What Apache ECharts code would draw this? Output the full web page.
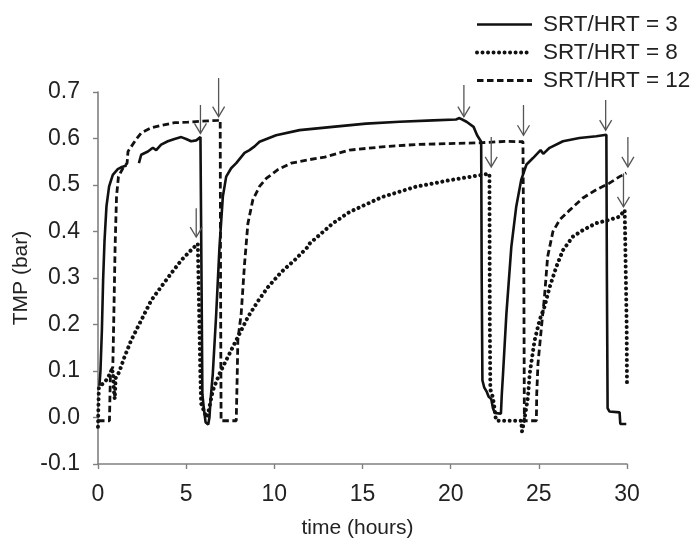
<!DOCTYPE html>
<html>
<head>
<meta charset="utf-8">
<script src="https://cdn.jsdelivr.net/npm/echarts@6/dist/echarts.min.js"></script>
<style>
  html, body { margin: 0; padding: 0; background: #fff; }
  #chart { width: 697px; height: 539px; }
</style>
</head>
<body>
<div id="chart"></div>
<script>
// Transmembrane pressure over three filtration/cleaning cycles, [time (h), TMP (bar)]
const seriesNames = ['SRT/HRT = 3', 'SRT/HRT = 8', 'SRT/HRT = 12'];

const srt3 = [
  [0.08, 0.068], [0.14, 0.10], [0.22, 0.187], [0.29, 0.295], [0.37, 0.38], [0.48, 0.454],
  [0.63, 0.497], [0.84, 0.522], [1.12, 0.534], [1.31, 0.538], [1.62, 0.542], [1.9, null],
  [2.32, 0.547], [2.45, 0.565], [2.83, 0.572], [3.11, 0.58], [3.3, 0.575], [3.58, 0.587],
  [3.96, 0.594], [4.34, 0.599], [4.72, 0.603], [5.0, 0.599], [5.28, 0.594], [5.57, 0.596],
  [5.81, 0.603], [5.88, 0.60], [5.92, 0.05], [6.0, 0.02], [6.1, -0.01], [6.25, -0.015],
  [6.32, 0.0], [6.38, 0.036], [6.51, 0.094], [6.70, 0.22], [6.89, 0.367], [7.08, 0.475],
  [7.27, 0.518], [7.55, 0.536], [7.84, 0.547], [8.31, 0.569], [8.59, 0.575], [8.88, 0.583],
  [9.16, 0.593], [10.1, 0.607], [11.43, 0.618], [13.3, 0.625], [15.2, 0.632], [17.1, 0.636],
  [19.0, 0.639], [20.3, 0.641], [20.5, 0.644], [20.9, 0.636], [21.3, 0.625], [21.5, 0.607],
  [21.73, 0.593], [21.76, 0.3], [21.8, 0.08], [21.9, 0.065], [22.05, 0.055], [22.15, 0.045],
  [22.3, 0.04], [22.4, 0.02], [22.5, 0.01], [22.85, 0.008], [22.9, 0.05], [22.97, 0.094],
  [23.16, 0.223], [23.44, 0.367], [23.72, 0.454], [24.0, 0.511], [24.3, 0.544], [24.67, 0.558],
  [24.95, 0.569], [25.1, 0.575], [25.25, 0.567], [25.61, 0.58], [26.37, 0.594], [27.3, 0.601],
  [28.26, 0.605], [28.83, 0.608], [28.86, 0.3], [28.9, 0.02], [29.0, 0.013], [29.58, 0.011],
  [29.62, -0.014], [29.96, -0.014]
];

const srt8 = [
  [0.0, -0.02], [0.02, 0.02], [0.05, 0.065], [0.25, 0.072], [0.46, 0.08], [0.7, 0.095],
  [0.84, 0.10], [0.9, 0.06], [0.95, 0.04], [1.0, 0.085], [1.1, 0.09], [1.22, 0.10],
  [1.5, 0.13], [1.88, 0.166], [2.45, 0.209], [3.02, 0.252], [3.58, 0.281], [4.15, 0.31],
  [4.72, 0.338], [5.28, 0.36], [5.66, 0.374], [5.76, 0.378], [5.8, 0.1], [5.85, 0.03],
  [6.0, 0.015], [6.15, 0.0], [6.25, 0.01], [6.51, 0.058], [6.89, 0.094], [7.36, 0.13],
  [7.93, 0.173], [8.50, 0.216], [9.07, 0.25], [9.63, 0.28], [10.4, 0.313], [11.14, 0.338],
  [11.9, 0.367], [12.0, 0.374], [13.3, 0.417], [14.26, 0.442], [16.1, 0.474], [18.0, 0.496],
  [19.9, 0.51], [21.8, 0.522], [22.2, 0.524], [22.22, 0.2], [22.25, 0.06], [22.35, 0.05],
  [22.45, 0.03], [22.55, 0.0], [22.6, -0.007], [24.0, -0.007], [24.05, -0.03], [24.15, -0.03],
  [24.2, 0.0], [24.38, 0.043], [24.48, 0.094], [24.76, 0.166], [25.04, 0.209], [25.32, 0.238],
  [25.61, 0.28], [25.99, 0.324], [26.37, 0.36], [26.93, 0.389], [27.5, 0.403], [28.26, 0.418],
  [29.0, 0.425], [29.58, 0.432], [29.87, 0.446], [29.96, 0.45], [29.98, 0.2], [30.0, 0.065]
];

const srt12 = [
  [0.0, -0.007], [0.65, -0.007], [0.68, 0.05], [0.71, 0.10], [0.84, 0.108], [0.9, 0.223],
  [0.97, 0.367], [1.05, 0.475], [1.16, 0.518], [1.41, 0.536], [1.65, 0.547], [1.7, 0.572],
  [2.16, 0.598], [2.45, 0.612], [3.02, 0.623], [3.58, 0.628], [4.34, 0.634], [5.09, 0.635],
  [5.85, 0.637], [6.8, 0.639], [6.93, 0.64], [6.95, 0.3], [6.98, -0.007], [7.84, -0.007],
  [7.9, 0.10], [7.93, 0.166], [8.12, 0.223], [8.31, 0.33], [8.50, 0.417], [8.78, 0.468],
  [9.16, 0.497], [9.54, 0.514], [10.2, 0.533], [10.95, 0.547], [11.9, 0.554], [12.85, 0.56],
  [14.26, 0.575], [16.1, 0.582], [18.0, 0.587], [19.9, 0.589], [21.8, 0.591], [23.2, 0.594],
  [24.1, 0.593], [24.13, 0.593], [24.15, 0.3], [24.18, -0.007], [24.86, -0.007], [24.88, 0.05],
  [24.95, 0.115], [25.13, 0.187], [25.32, 0.26], [25.5, 0.346], [25.8, 0.40], [26.18, 0.425],
  [26.75, 0.446], [27.5, 0.472], [28.26, 0.49], [29.0, 0.504], [29.58, 0.518], [29.96, 0.526]
];

// Cleaning events: [time (h), arrow tail TMP, arrow head TMP]
const arrowMarks = [
  [5.57, 0.45, 0.388], [5.81, 0.672, 0.611], [6.84, 0.73, 0.647],
  [20.75, 0.715, 0.647], [22.3, 0.603, 0.539], [24.13, 0.672, 0.607],
  [28.79, 0.683, 0.618], [30.05, 0.603, 0.539], [29.8, 0.525, 0.453]
];

const FONT = 'Liberation Sans, Arial, sans-serif';
const INK = '#111';
const AXIS = '#808080';
const TEXT = '#222';

const lineStyles = [
  { color: INK, width: 2.6, type: 'solid' },
  { color: INK, width: 4, type: [0.01, 5.5], cap: 'round' },
  { color: INK, width: 2.8, type: [6.5, 3.5] }
];

const chart = echarts.init(document.getElementById('chart'), null, { renderer: 'canvas' });

const lineSeries = [srt3, srt8, srt12].map((data, i) => ({
  name: seriesNames[i],
  type: 'line',
  data: data,
  symbol: 'none',
  showSymbol: false,
  connectNulls: false,
  lineStyle: lineStyles[i],
  itemStyle: { color: INK },
  z: 3 - i,
  animation: false
}));

chart.setOption({
  animation: false,
  backgroundColor: '#fff',
  textStyle: { fontFamily: FONT },
  grid: { left: 98, right: 70, top: 92, bottom: 75, containLabel: false, outerBoundsMode: 'none' },
  legend: {
    data: seriesNames.map((name, i) => ({
      name: name,
      lineStyle: Object.assign({}, lineStyles[i], { opacity: 1 })
    })),
    orient: 'vertical',
    left: 475,
    top: 13,
    itemWidth: 55,
    itemHeight: 14,
    itemGap: 5,
    padding: 0,
    selectedMode: false,
    itemStyle: { color: 'transparent', borderWidth: 0, opacity: 0 },
    textStyle: { fontFamily: FONT, fontSize: 22.5, color: TEXT, lineHeight: 22, padding: [0, 0, 0, 6] }
  },
  xAxis: {
    type: 'value',
    min: 0, max: 30, interval: 5,
    name: 'time (hours)',
    nameLocation: 'middle',
    nameGap: 54,
    nameMoveOverlap: false,
    nameTextStyle: { fontFamily: FONT, fontSize: 21, color: TEXT, padding: [0, 10, 0, 0] },
    axisLine: { onZero: false, lineStyle: { color: AXIS, width: 1.6 } },
    axisTick: { show: true, length: 5, lineStyle: { color: AXIS, width: 1.4 } },
    axisLabel: { fontFamily: FONT, fontSize: 23, color: TEXT, margin: 19 },
    splitLine: { show: false }
  },
  yAxis: {
    type: 'value',
    min: -0.1, max: 0.7, interval: 0.1,
    name: 'TMP (bar)',
    nameLocation: 'middle',
    nameGap: 66,
    nameMoveOverlap: false,
    nameRotate: 90,
    nameTextStyle: { fontFamily: FONT, fontSize: 21, color: TEXT },
    axisLine: { show: true, lineStyle: { color: AXIS, width: 1.6 } },
    axisTick: { show: true, length: 5, lineStyle: { color: AXIS, width: 1.4 } },
    axisLabel: {
      fontFamily: FONT, fontSize: 23, color: TEXT, margin: 18,
      formatter: v => (Math.abs(v) < 1e-9 ? 0 : v).toFixed(1)
    },
    splitLine: { show: false }
  },
  series: lineSeries.concat([{
    type: 'custom',
    name: 'cleaning',
    data: arrowMarks,
    encode: { x: 0, y: [1, 2] },
    clip: false,
    z: 10,
    silent: true,
    renderItem: function (params, api) {
      const tail = api.coord([api.value(0), api.value(1)]);
      const head = api.coord([api.value(0), api.value(2)]);
      const style = { stroke: '#555', lineWidth: 1.3, fill: null };
      return {
        type: 'group',
        children: [
          { type: 'line', shape: { x1: tail[0], y1: tail[1], x2: head[0], y2: head[1] }, style: style },
          { type: 'polyline', shape: { points: [[head[0] - 6, head[1] - 10], [head[0], head[1]], [head[0] + 6, head[1] - 10]] }, style: style }
        ]
      };
    }
  }])
});
</script>
</body>
</html>
